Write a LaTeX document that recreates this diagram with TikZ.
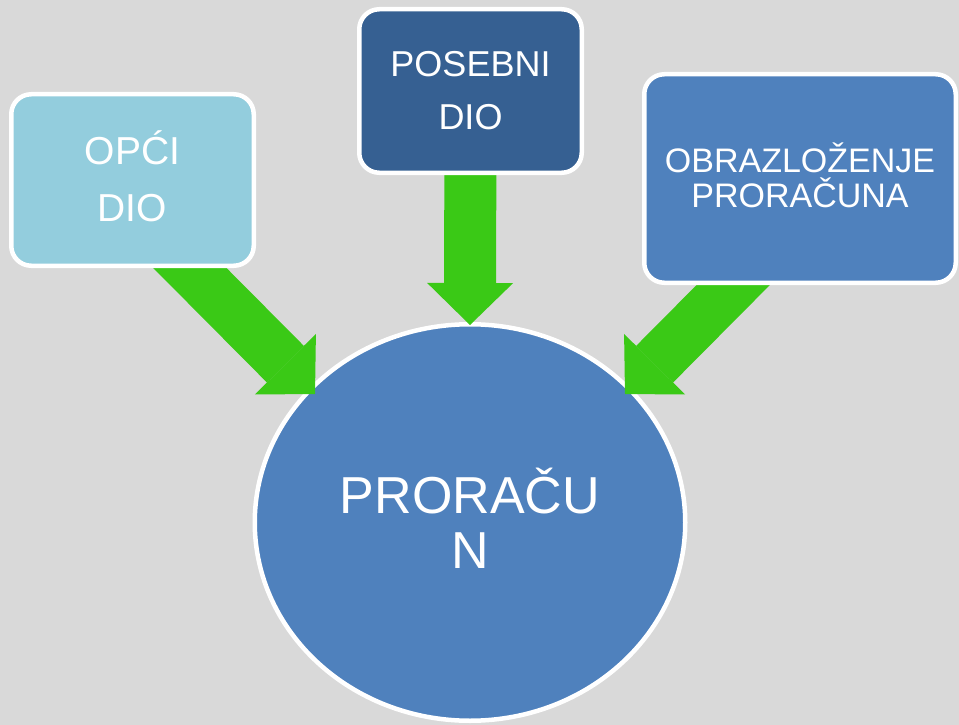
\documentclass[tikz,border=0pt]{standalone}
\usepackage{fontspec}
\setmainfont{Liberation Sans}
\usetikzlibrary{shapes.geometric,arrows.meta}
\definecolor{bgGray}{HTML}{D9D9D9}
\definecolor{opciBlue}{HTML}{93CDDD}
\definecolor{posebniBlue}{HTML}{366092}
\definecolor{mainBlue}{HTML}{4F81BD}
\definecolor{arrowGreen}{HTML}{3AC916}
\pgfdeclarelayer{front}
\pgfsetlayers{main,front}

\begin{document}
\begin{tikzpicture}[x=1pt,y=-1pt]
    \tikzset{BoxStyle/.style={draw=white, line width=4.5pt, rounded corners=20pt,
        text=white, align=center, inner sep=0pt}}
    \tikzset{CircleStyle/.style={ellipse, draw=white, line width=4.5pt, fill=mainBlue,
        text=white, align=center, inner sep=0pt,
        minimum width=430.5pt, minimum height=396.5pt}}
    \tikzset{ArrowStyle/.style={draw=arrowGreen, line width=52pt,
        -{Triangle[length=42pt, width=86pt, line width=0pt]}}}
    \fill[bgGray] (0,0) rectangle (959,725);
    \useasboundingbox (0,0) rectangle (959,725);
    \begin{pgfonlayer}{front}
    \node[BoxStyle, fill=opciBlue, minimum width=242.5pt, minimum height=171.5pt,
        font=\fontsize{39}{57}\selectfont] (opci) at (132.5,180) {OP\smash{Ć}I\\DIO};
    \node[BoxStyle, fill=posebniBlue, minimum width=222.5pt, minimum height=163.5pt,
        font=\fontsize{36}{53}\selectfont] (posebni) at (470.5,91) {POSEBNI\\DIO};
    \node[BoxStyle, fill=mainBlue, minimum width=311.5pt, minimum height=208.5pt,
        font=\fontsize{34}{35}\selectfont] (obraz) at (800,178.5) {OBRAZLO\smash{Ž}ENJE\\PRORAČUNA};
    \end{pgfonlayer}
    \node[CircleStyle, font=\fontsize{52}{55}\selectfont] (proracun) at (470,522.5) {PRORA\smash{Č}U\\N};
    \coordinate (tip1) at (315,394);
    \coordinate (tip2) at (470,325);
    \coordinate (tip3) at (625,394);
    \draw[ArrowStyle] ([xshift=-30pt]opci.center) -- (tip1);
    \draw[ArrowStyle] (posebni.center) -- (tip2);
    \draw[ArrowStyle] ([xshift=39pt]obraz.center) -- (tip3);
\end{tikzpicture}
\end{document}
